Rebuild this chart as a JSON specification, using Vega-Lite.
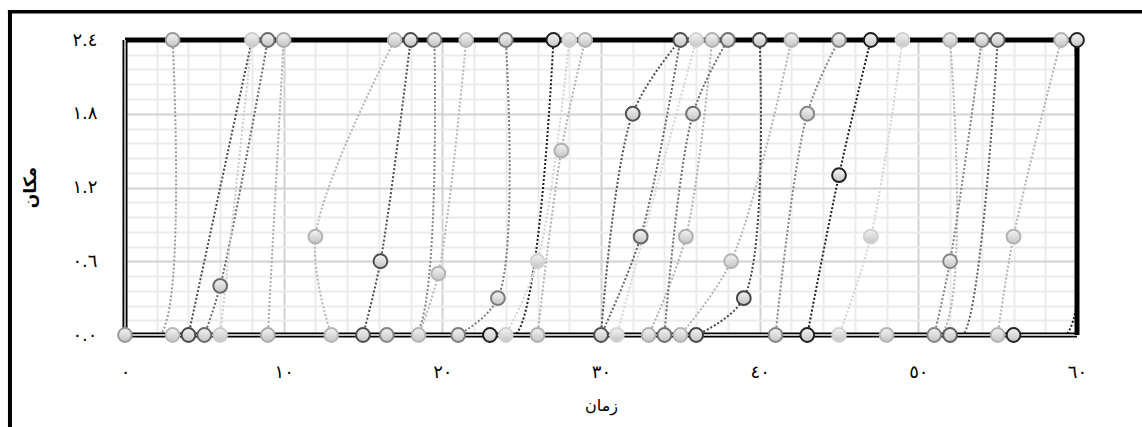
{
  "$schema": "https://vega.github.io/schema/vega-lite/v6.json",
  "width": 952,
  "height": 295,
  "autosize": "none",
  "padding": {"left": 125, "top": 40, "right": 65, "bottom": 92},
  "background": "white",
  "config": {"view": {"stroke": null}, "font": "DejaVu Sans"},
  "datasets": {
    "paths": [
      {"series": "s1", "step": 0, "time": 0, "place": 0}, {"series": "s1", "step": 1, "time": 2.2, "place": 0}, {"series": "s1", "step": 2, "time": 3, "place": 2.4},
      {"series": "s2", "step": 0, "time": 4, "place": 0}, {"series": "s2", "step": 1, "time": 8, "place": 2.4},
      {"series": "s3", "step": 0, "time": 5, "place": 0}, {"series": "s3", "step": 1, "time": 6, "place": 0.4}, {"series": "s3", "step": 2, "time": 9, "place": 2.4},
      {"series": "s4", "step": 0, "time": 6, "place": 0}, {"series": "s4", "step": 1, "time": 8, "place": 2.4},
      {"series": "s5", "step": 0, "time": 9, "place": 0}, {"series": "s5", "step": 1, "time": 10, "place": 2.4},
      {"series": "s6", "step": 0, "time": 13, "place": 0}, {"series": "s6", "step": 1, "time": 12, "place": 0.8}, {"series": "s6", "step": 2, "time": 17, "place": 2.4},
      {"series": "s7", "step": 0, "time": 15, "place": 0}, {"series": "s7", "step": 1, "time": 16.1, "place": 0.6}, {"series": "s7", "step": 2, "time": 18, "place": 2.4},
      {"series": "s8", "step": 0, "time": 16.5, "place": 0}, {"series": "s8", "step": 1, "time": 18.3, "place": 0}, {"series": "s8", "step": 2, "time": 19.5, "place": 2.4},
      {"series": "s9", "step": 0, "time": 18.5, "place": 0}, {"series": "s9", "step": 1, "time": 19.75, "place": 0.5}, {"series": "s9", "step": 2, "time": 21.5, "place": 2.4},
      {"series": "s10", "step": 0, "time": 21, "place": 0}, {"series": "s10", "step": 1, "time": 23.5, "place": 0.3}, {"series": "s10", "step": 2, "time": 24, "place": 2.4},
      {"series": "s11", "step": 0, "time": 23, "place": 0}, {"series": "s11", "step": 1, "time": 24.6, "place": 0}, {"series": "s11", "step": 2, "time": 27, "place": 2.4},
      {"series": "s12", "step": 0, "time": 24, "place": 0}, {"series": "s12", "step": 1, "time": 26, "place": 0.6}, {"series": "s12", "step": 2, "time": 28, "place": 2.4},
      {"series": "s13", "step": 0, "time": 26, "place": 0}, {"series": "s13", "step": 1, "time": 27.5, "place": 1.5}, {"series": "s13", "step": 2, "time": 29, "place": 2.4},
      {"series": "s14", "step": 0, "time": 30, "place": 0}, {"series": "s14", "step": 1, "time": 32, "place": 1.8}, {"series": "s14", "step": 2, "time": 35, "place": 2.4},
      {"series": "s15", "step": 0, "time": 30, "place": 0}, {"series": "s15", "step": 1, "time": 32.5, "place": 0.8}, {"series": "s15", "step": 2, "time": 35, "place": 2.4},
      {"series": "s16", "step": 0, "time": 33, "place": 0}, {"series": "s16", "step": 1, "time": 35.35, "place": 0.8}, {"series": "s16", "step": 2, "time": 37, "place": 2.4},
      {"series": "s17", "step": 0, "time": 34, "place": 0}, {"series": "s17", "step": 1, "time": 35.8, "place": 1.8}, {"series": "s17", "step": 2, "time": 38, "place": 2.4},
      {"series": "s18", "step": 0, "time": 31, "place": 0}, {"series": "s18", "step": 1, "time": 36, "place": 2.4},
      {"series": "s19", "step": 0, "time": 36, "place": 0}, {"series": "s19", "step": 1, "time": 39, "place": 0.3}, {"series": "s19", "step": 2, "time": 40, "place": 2.4},
      {"series": "s20", "step": 0, "time": 35, "place": 0}, {"series": "s20", "step": 1, "time": 38.2, "place": 0.6}, {"series": "s20", "step": 2, "time": 42, "place": 2.4},
      {"series": "s21", "step": 0, "time": 41, "place": 0}, {"series": "s21", "step": 1, "time": 43, "place": 1.8}, {"series": "s21", "step": 2, "time": 45, "place": 2.4},
      {"series": "s22", "step": 0, "time": 43, "place": 0}, {"series": "s22", "step": 1, "time": 45, "place": 1.3}, {"series": "s22", "step": 2, "time": 47, "place": 2.4},
      {"series": "s23", "step": 0, "time": 45, "place": 0}, {"series": "s23", "step": 1, "time": 47, "place": 0.8}, {"series": "s23", "step": 2, "time": 49, "place": 2.4},
      {"series": "s24", "step": 0, "time": 48, "place": 0}, {"series": "s24", "step": 1, "time": 51.4, "place": 0}, {"series": "s24", "step": 2, "time": 52, "place": 2.4},
      {"series": "s25", "step": 0, "time": 51, "place": 0}, {"series": "s25", "step": 1, "time": 52, "place": 0.6}, {"series": "s25", "step": 2, "time": 54, "place": 2.4},
      {"series": "s26", "step": 0, "time": 52, "place": 0}, {"series": "s26", "step": 1, "time": 52.8, "place": 0}, {"series": "s26", "step": 2, "time": 55, "place": 2.4},
      {"series": "s27", "step": 0, "time": 55, "place": 0}, {"series": "s27", "step": 1, "time": 56, "place": 0.8}, {"series": "s27", "step": 2, "time": 59, "place": 2.4},
      {"series": "s28", "step": 0, "time": 56, "place": 0}, {"series": "s28", "step": 1, "time": 59.3, "place": 0}, {"series": "s28", "step": 2, "time": 59.85, "place": 2.4}
    ],
    "stops": [
      {"series": "s1", "time": 0, "place": 0}, {"series": "s0", "time": 3, "place": 0}, {"series": "s2", "time": 4, "place": 0},
      {"series": "s3", "time": 5, "place": 0}, {"series": "s4", "time": 6, "place": 0}, {"series": "s5", "time": 9, "place": 0},
      {"series": "s6", "time": 13, "place": 0}, {"series": "s7", "time": 15, "place": 0}, {"series": "s8", "time": 16.5, "place": 0},
      {"series": "s9", "time": 18.5, "place": 0}, {"series": "s10", "time": 21, "place": 0}, {"series": "s11", "time": 23, "place": 0},
      {"series": "s12", "time": 24, "place": 0}, {"series": "s13", "time": 26, "place": 0}, {"series": "s14", "time": 30, "place": 0},
      {"series": "s18", "time": 31, "place": 0}, {"series": "s16", "time": 33, "place": 0}, {"series": "s17", "time": 34, "place": 0},
      {"series": "s20", "time": 35, "place": 0}, {"series": "s19", "time": 36, "place": 0}, {"series": "s21", "time": 41, "place": 0},
      {"series": "s22", "time": 43, "place": 0}, {"series": "s23", "time": 45, "place": 0}, {"series": "s24", "time": 48, "place": 0},
      {"series": "s25", "time": 51, "place": 0}, {"series": "s26", "time": 52, "place": 0}, {"series": "s27", "time": 55, "place": 0},
      {"series": "s28", "time": 56, "place": 0},
      {"series": "s3", "time": 6, "place": 0.4}, {"series": "s6", "time": 12, "place": 0.8}, {"series": "s7", "time": 16.1, "place": 0.6},
      {"series": "s9", "time": 19.75, "place": 0.5}, {"series": "s10", "time": 23.5, "place": 0.3}, {"series": "s12", "time": 26, "place": 0.6},
      {"series": "s13", "time": 27.5, "place": 1.5}, {"series": "s14", "time": 32, "place": 1.8}, {"series": "s15", "time": 32.5, "place": 0.8},
      {"series": "s16", "time": 35.35, "place": 0.8}, {"series": "s17", "time": 35.8, "place": 1.8}, {"series": "s20", "time": 38.2, "place": 0.6},
      {"series": "s19", "time": 39, "place": 0.3}, {"series": "s21", "time": 43, "place": 1.8}, {"series": "s22", "time": 45, "place": 1.3},
      {"series": "s23", "time": 47, "place": 0.8}, {"series": "s25", "time": 52, "place": 0.6}, {"series": "s27", "time": 56, "place": 0.8},
      {"series": "s1", "time": 3, "place": 2.4}, {"series": "s4", "time": 8, "place": 2.4}, {"series": "s3", "time": 9, "place": 2.4},
      {"series": "s5", "time": 10, "place": 2.4}, {"series": "s6", "time": 17, "place": 2.4}, {"series": "s7", "time": 18, "place": 2.4},
      {"series": "s8", "time": 19.5, "place": 2.4}, {"series": "s9", "time": 21.5, "place": 2.4}, {"series": "s10", "time": 24, "place": 2.4},
      {"series": "s11", "time": 27, "place": 2.4}, {"series": "s12", "time": 28, "place": 2.4}, {"series": "s13", "time": 29, "place": 2.4},
      {"series": "s14", "time": 35, "place": 2.4}, {"series": "s18", "time": 36, "place": 2.4}, {"series": "s16", "time": 37, "place": 2.4},
      {"series": "s17", "time": 38, "place": 2.4}, {"series": "s19", "time": 40, "place": 2.4}, {"series": "s20", "time": 42, "place": 2.4},
      {"series": "s21", "time": 45, "place": 2.4}, {"series": "s22", "time": 47, "place": 2.4}, {"series": "s23", "time": 49, "place": 2.4},
      {"series": "s24", "time": 52, "place": 2.4}, {"series": "s25", "time": 54, "place": 2.4}, {"series": "s26", "time": 55, "place": 2.4},
      {"series": "s27", "time": 59, "place": 2.4}, {"series": "s28", "time": 60, "place": 2.4}
    ]
  },
  "layer": [
    {
      "data": {"name": "paths"},
      "mark": {"type": "line", "interpolate": "catmull-rom", "strokeWidth": 2, "strokeDash": [2, 2], "clip": true},
      "encoding": {
        "x": {
          "field": "time", "type": "quantitative", "title": "زمان",
          "scale": {"domain": [0, 60], "nice": false, "zero": false},
          "axis": {"values": [0, 2, 4, 6, 8, 10, 12, 14, 16, 18, 20, 22, 24, 26, 28, 30, 32, 34, 36, 38, 40, 42, 44, 46, 48, 50, 52, 54, 56, 58, 60], "grid": true, "ticks": false, "domain": false, "gridColor": {"condition": {"test": "datum.value % 10 == 0", "value": "#d2d2d2"}, "value": "#ebebeb"}, "gridWidth": 2, "labelExpr": "datum.value % 10 == 0 ? ['٠','١٠','٢٠','٣٠','٤٠','٥٠','٦٠'][datum.value / 10] : ''", "labelFlush": false, "labelOverlap": false, "labelPadding": 28, "labelFontSize": 18, "labelColor": "#000", "titleFontSize": 16, "titleFontWeight": "normal", "titleColor": "#000", "titleY": 70, "titleBaseline": "middle"}
        },
        "y": {
          "field": "place", "type": "quantitative", "title": "مکان",
          "scale": {"domain": [0, 2.4], "nice": false, "zero": false},
          "axis": {"values": [0, 0.12, 0.24, 0.36, 0.48, 0.6, 0.72, 0.84, 0.96, 1.08, 1.2, 1.32, 1.44, 1.56, 1.68, 1.8, 1.92, 2.04, 2.16, 2.28, 2.4], "grid": true, "ticks": false, "domain": false, "gridColor": {"condition": {"test": "abs(datum.value / 0.6 - round(datum.value / 0.6)) < 0.001", "value": "#d2d2d2"}, "value": "#ebebeb"}, "gridWidth": 2, "labelExpr": "abs(datum.value / 0.6 - round(datum.value / 0.6)) < 0.001 ? ['٠.٠','٠.٦','١.٢','١.٨','٢.٤'][round(datum.value / 0.6)] : ''", "labelOverlap": false, "labelFlush": false, "labelPadding": 28, "labelFontSize": 18, "labelColor": "#000", "titleFontSize": 17, "titleFontWeight": "bold", "titleColor": "#000", "titleX": -95, "titleY": 147, "titleAlign": "center", "titleBaseline": "middle"}
        },
        "detail": {"field": "series"},
        "order": {"field": "step", "type": "quantitative"},
        "stroke": {
          "field": "series", "type": "nominal", "legend": null,
          "scale": {
            "domain": ["s0","s1","s2","s3","s4","s5","s6","s7","s8","s9","s10","s11","s12","s13","s14","s15","s16","s17","s18","s19","s20","s21","s22","s23","s24","s25","s26","s27","s28"],
            "range": ["#b8b8b8","#999999","#4a4a4a","#6a6a6a","#cccccc","#ababab","#b5b5b5","#4d4d4d","#858585","#b5b5b5","#7d7d7d","#1f1f1f","#d2d2d2","#b0b0b0","#505050","#666666","#b0b0b0","#6e6e6e","#d4d4d4","#454545","#b3b3b3","#858585","#1f1f1f","#d2d2d2","#b3b3b3","#858585","#5e5e5e","#b3b3b3","#262626"]
          }
        }
      }
    },
    {
      "data": {"values": [{}]},
      "mark": {"type": "rule", "color": "#000", "strokeWidth": 5},
      "encoding": {
        "y": {
          "datum": 2.4, "type": "quantitative", "title": "مکان",
          "scale": {"domain": [0, 2.4], "nice": false, "zero": false},
          "axis": {"values": [0, 0.12, 0.24, 0.36, 0.48, 0.6, 0.72, 0.84, 0.96, 1.08, 1.2, 1.32, 1.44, 1.56, 1.68, 1.8, 1.92, 2.04, 2.16, 2.28, 2.4], "grid": true, "ticks": false, "domain": false, "gridColor": {"condition": {"test": "abs(datum.value / 0.6 - round(datum.value / 0.6)) < 0.001", "value": "#d2d2d2"}, "value": "#ebebeb"}, "gridWidth": 2, "labelExpr": "abs(datum.value / 0.6 - round(datum.value / 0.6)) < 0.001 ? ['٠.٠','٠.٦','١.٢','١.٨','٢.٤'][round(datum.value / 0.6)] : ''", "labelOverlap": false, "labelFlush": false, "labelPadding": 28, "labelFontSize": 18, "labelColor": "#000", "titleFontSize": 17, "titleFontWeight": "bold", "titleColor": "#000", "titleX": -95, "titleY": 147, "titleAlign": "center", "titleBaseline": "middle"}
        }
      }
    },
    {
      "data": {"values": [{}]},
      "mark": {"type": "rule", "color": "#000", "strokeWidth": 5},
      "encoding": {
        "y": {
          "datum": 0, "type": "quantitative", "title": "مکان",
          "scale": {"domain": [0, 2.4], "nice": false, "zero": false},
          "axis": {"values": [0, 0.12, 0.24, 0.36, 0.48, 0.6, 0.72, 0.84, 0.96, 1.08, 1.2, 1.32, 1.44, 1.56, 1.68, 1.8, 1.92, 2.04, 2.16, 2.28, 2.4], "grid": true, "ticks": false, "domain": false, "gridColor": {"condition": {"test": "abs(datum.value / 0.6 - round(datum.value / 0.6)) < 0.001", "value": "#d2d2d2"}, "value": "#ebebeb"}, "gridWidth": 2, "labelExpr": "abs(datum.value / 0.6 - round(datum.value / 0.6)) < 0.001 ? ['٠.٠','٠.٦','١.٢','١.٨','٢.٤'][round(datum.value / 0.6)] : ''", "labelOverlap": false, "labelFlush": false, "labelPadding": 28, "labelFontSize": 18, "labelColor": "#000", "titleFontSize": 17, "titleFontWeight": "bold", "titleColor": "#000", "titleX": -95, "titleY": 147, "titleAlign": "center", "titleBaseline": "middle"}
        }
      }
    },
    {
      "data": {"values": [{}]},
      "mark": {"type": "rule", "color": "#fff", "strokeWidth": 1.3},
      "encoding": {
        "y": {
          "datum": 0, "type": "quantitative", "title": "مکان",
          "scale": {"domain": [0, 2.4], "nice": false, "zero": false},
          "axis": {"values": [0, 0.12, 0.24, 0.36, 0.48, 0.6, 0.72, 0.84, 0.96, 1.08, 1.2, 1.32, 1.44, 1.56, 1.68, 1.8, 1.92, 2.04, 2.16, 2.28, 2.4], "grid": true, "ticks": false, "domain": false, "gridColor": {"condition": {"test": "abs(datum.value / 0.6 - round(datum.value / 0.6)) < 0.001", "value": "#d2d2d2"}, "value": "#ebebeb"}, "gridWidth": 2, "labelExpr": "abs(datum.value / 0.6 - round(datum.value / 0.6)) < 0.001 ? ['٠.٠','٠.٦','١.٢','١.٨','٢.٤'][round(datum.value / 0.6)] : ''", "labelOverlap": false, "labelFlush": false, "labelPadding": 28, "labelFontSize": 18, "labelColor": "#000", "titleFontSize": 17, "titleFontWeight": "bold", "titleColor": "#000", "titleX": -95, "titleY": 147, "titleAlign": "center", "titleBaseline": "middle"}
        }
      }
    },
    {
      "data": {"values": [{}]},
      "mark": {"type": "rule", "color": "#000", "strokeWidth": 5},
      "encoding": {
        "x": {
          "datum": 60, "type": "quantitative", "title": "زمان",
          "scale": {"domain": [0, 60], "nice": false, "zero": false},
          "axis": {"values": [0, 2, 4, 6, 8, 10, 12, 14, 16, 18, 20, 22, 24, 26, 28, 30, 32, 34, 36, 38, 40, 42, 44, 46, 48, 50, 52, 54, 56, 58, 60], "grid": true, "ticks": false, "domain": false, "gridColor": {"condition": {"test": "datum.value % 10 == 0", "value": "#d2d2d2"}, "value": "#ebebeb"}, "gridWidth": 2, "labelExpr": "datum.value % 10 == 0 ? ['٠','١٠','٢٠','٣٠','٤٠','٥٠','٦٠'][datum.value / 10] : ''", "labelFlush": false, "labelOverlap": false, "labelPadding": 28, "labelFontSize": 18, "labelColor": "#000", "titleFontSize": 16, "titleFontWeight": "normal", "titleColor": "#000", "titleY": 70, "titleBaseline": "middle"}
        }
      }
    },
    {
      "data": {"values": [{}]},
      "mark": {"type": "rule", "color": "#000", "strokeWidth": 5},
      "encoding": {
        "x": {
          "datum": 0, "type": "quantitative", "title": "زمان",
          "scale": {"domain": [0, 60], "nice": false, "zero": false},
          "axis": {"values": [0, 2, 4, 6, 8, 10, 12, 14, 16, 18, 20, 22, 24, 26, 28, 30, 32, 34, 36, 38, 40, 42, 44, 46, 48, 50, 52, 54, 56, 58, 60], "grid": true, "ticks": false, "domain": false, "gridColor": {"condition": {"test": "datum.value % 10 == 0", "value": "#d2d2d2"}, "value": "#ebebeb"}, "gridWidth": 2, "labelExpr": "datum.value % 10 == 0 ? ['٠','١٠','٢٠','٣٠','٤٠','٥٠','٦٠'][datum.value / 10] : ''", "labelFlush": false, "labelOverlap": false, "labelPadding": 28, "labelFontSize": 18, "labelColor": "#000", "titleFontSize": 16, "titleFontWeight": "normal", "titleColor": "#000", "titleY": 70, "titleBaseline": "middle"}
        }
      }
    },
    {
      "data": {"values": [{}]},
      "mark": {"type": "rule", "color": "#fff", "strokeWidth": 1.3},
      "encoding": {
        "x": {
          "datum": 0, "type": "quantitative", "title": "زمان",
          "scale": {"domain": [0, 60], "nice": false, "zero": false},
          "axis": {"values": [0, 2, 4, 6, 8, 10, 12, 14, 16, 18, 20, 22, 24, 26, 28, 30, 32, 34, 36, 38, 40, 42, 44, 46, 48, 50, 52, 54, 56, 58, 60], "grid": true, "ticks": false, "domain": false, "gridColor": {"condition": {"test": "datum.value % 10 == 0", "value": "#d2d2d2"}, "value": "#ebebeb"}, "gridWidth": 2, "labelExpr": "datum.value % 10 == 0 ? ['٠','١٠','٢٠','٣٠','٤٠','٥٠','٦٠'][datum.value / 10] : ''", "labelFlush": false, "labelOverlap": false, "labelPadding": 28, "labelFontSize": 18, "labelColor": "#000", "titleFontSize": 16, "titleFontWeight": "normal", "titleColor": "#000", "titleY": 70, "titleBaseline": "middle"}
        }
      }
    },
    {
      "data": {"name": "stops"},
      "mark": {
        "type": "circle", "size": 190, "strokeWidth": 2, "opacity": 1, "fillOpacity": 1,
        "fill": {"gradient": "linear", "x1": 0, "y1": 0, "x2": 0, "y2": 1, "stops": [{"offset": 0, "color": "#f4f4f4"}, {"offset": 1, "color": "#c4c4c4"}]}
      },
      "encoding": {
        "x": {
          "field": "time", "type": "quantitative", "title": "زمان",
          "scale": {"domain": [0, 60], "nice": false, "zero": false},
          "axis": {"values": [0, 2, 4, 6, 8, 10, 12, 14, 16, 18, 20, 22, 24, 26, 28, 30, 32, 34, 36, 38, 40, 42, 44, 46, 48, 50, 52, 54, 56, 58, 60], "grid": true, "ticks": false, "domain": false, "gridColor": {"condition": {"test": "datum.value % 10 == 0", "value": "#d2d2d2"}, "value": "#ebebeb"}, "gridWidth": 2, "labelExpr": "datum.value % 10 == 0 ? ['٠','١٠','٢٠','٣٠','٤٠','٥٠','٦٠'][datum.value / 10] : ''", "labelFlush": false, "labelOverlap": false, "labelPadding": 28, "labelFontSize": 18, "labelColor": "#000", "titleFontSize": 16, "titleFontWeight": "normal", "titleColor": "#000", "titleY": 70, "titleBaseline": "middle"}
        },
        "y": {
          "field": "place", "type": "quantitative", "title": "مکان",
          "scale": {"domain": [0, 2.4], "nice": false, "zero": false},
          "axis": {"values": [0, 0.12, 0.24, 0.36, 0.48, 0.6, 0.72, 0.84, 0.96, 1.08, 1.2, 1.32, 1.44, 1.56, 1.68, 1.8, 1.92, 2.04, 2.16, 2.28, 2.4], "grid": true, "ticks": false, "domain": false, "gridColor": {"condition": {"test": "abs(datum.value / 0.6 - round(datum.value / 0.6)) < 0.001", "value": "#d2d2d2"}, "value": "#ebebeb"}, "gridWidth": 2, "labelExpr": "abs(datum.value / 0.6 - round(datum.value / 0.6)) < 0.001 ? ['٠.٠','٠.٦','١.٢','١.٨','٢.٤'][round(datum.value / 0.6)] : ''", "labelOverlap": false, "labelFlush": false, "labelPadding": 28, "labelFontSize": 18, "labelColor": "#000", "titleFontSize": 17, "titleFontWeight": "bold", "titleColor": "#000", "titleX": -95, "titleY": 147, "titleAlign": "center", "titleBaseline": "middle"}
        },
        "stroke": {
          "field": "series", "type": "nominal", "legend": null,
          "scale": {
            "domain": ["s0","s1","s2","s3","s4","s5","s6","s7","s8","s9","s10","s11","s12","s13","s14","s15","s16","s17","s18","s19","s20","s21","s22","s23","s24","s25","s26","s27","s28"],
            "range": ["#b8b8b8","#999999","#4a4a4a","#6a6a6a","#cccccc","#ababab","#b5b5b5","#4d4d4d","#858585","#b5b5b5","#7d7d7d","#1f1f1f","#d2d2d2","#b0b0b0","#505050","#666666","#b0b0b0","#6e6e6e","#d4d4d4","#454545","#b3b3b3","#858585","#1f1f1f","#d2d2d2","#b3b3b3","#858585","#5e5e5e","#b3b3b3","#262626"]
          }
        }
      }
    },
    {
      "data": {"values": [{}]},
      "mark": {"type": "rule", "color": "#000", "strokeWidth": 4},
      "encoding": {
        "x": {
          "datum": -7.25, "type": "quantitative", "title": "زمان",
          "scale": {"domain": [0, 60], "nice": false, "zero": false},
          "axis": {"values": [0, 2, 4, 6, 8, 10, 12, 14, 16, 18, 20, 22, 24, 26, 28, 30, 32, 34, 36, 38, 40, 42, 44, 46, 48, 50, 52, 54, 56, 58, 60], "grid": true, "ticks": false, "domain": false, "gridColor": {"condition": {"test": "datum.value % 10 == 0", "value": "#d2d2d2"}, "value": "#ebebeb"}, "gridWidth": 2, "labelExpr": "datum.value % 10 == 0 ? ['٠','١٠','٢٠','٣٠','٤٠','٥٠','٦٠'][datum.value / 10] : ''", "labelFlush": false, "labelOverlap": false, "labelPadding": 28, "labelFontSize": 18, "labelColor": "#000", "titleFontSize": 16, "titleFontWeight": "normal", "titleColor": "#000", "titleY": 70, "titleBaseline": "middle"}
        },
        "y": {
          "datum": 2.63, "type": "quantitative", "title": "مکان",
          "scale": {"domain": [0, 2.4], "nice": false, "zero": false},
          "axis": {"values": [0, 0.12, 0.24, 0.36, 0.48, 0.6, 0.72, 0.84, 0.96, 1.08, 1.2, 1.32, 1.44, 1.56, 1.68, 1.8, 1.92, 2.04, 2.16, 2.28, 2.4], "grid": true, "ticks": false, "domain": false, "gridColor": {"condition": {"test": "abs(datum.value / 0.6 - round(datum.value / 0.6)) < 0.001", "value": "#d2d2d2"}, "value": "#ebebeb"}, "gridWidth": 2, "labelExpr": "abs(datum.value / 0.6 - round(datum.value / 0.6)) < 0.001 ? ['٠.٠','٠.٦','١.٢','١.٨','٢.٤'][round(datum.value / 0.6)] : ''", "labelOverlap": false, "labelFlush": false, "labelPadding": 28, "labelFontSize": 18, "labelColor": "#000", "titleFontSize": 17, "titleFontWeight": "bold", "titleColor": "#000", "titleX": -95, "titleY": 147, "titleAlign": "center", "titleBaseline": "middle"}
        },
        "y2": {"datum": -0.8}
      }
    },
    {
      "data": {"values": [{}]},
      "mark": {"type": "rule", "color": "#000", "strokeWidth": 3.5},
      "encoding": {
        "x": {
          "datum": -7.38, "type": "quantitative", "title": "زمان",
          "scale": {"domain": [0, 60], "nice": false, "zero": false},
          "axis": {"values": [0, 2, 4, 6, 8, 10, 12, 14, 16, 18, 20, 22, 24, 26, 28, 30, 32, 34, 36, 38, 40, 42, 44, 46, 48, 50, 52, 54, 56, 58, 60], "grid": true, "ticks": false, "domain": false, "gridColor": {"condition": {"test": "datum.value % 10 == 0", "value": "#d2d2d2"}, "value": "#ebebeb"}, "gridWidth": 2, "labelExpr": "datum.value % 10 == 0 ? ['٠','١٠','٢٠','٣٠','٤٠','٥٠','٦٠'][datum.value / 10] : ''", "labelFlush": false, "labelOverlap": false, "labelPadding": 28, "labelFontSize": 18, "labelColor": "#000", "titleFontSize": 16, "titleFontWeight": "normal", "titleColor": "#000", "titleY": 70, "titleBaseline": "middle"}
        },
        "x2": {"datum": 64.5},
        "y": {
          "datum": 2.63, "type": "quantitative", "title": "مکان",
          "scale": {"domain": [0, 2.4], "nice": false, "zero": false},
          "axis": {"values": [0, 0.12, 0.24, 0.36, 0.48, 0.6, 0.72, 0.84, 0.96, 1.08, 1.2, 1.32, 1.44, 1.56, 1.68, 1.8, 1.92, 2.04, 2.16, 2.28, 2.4], "grid": true, "ticks": false, "domain": false, "gridColor": {"condition": {"test": "abs(datum.value / 0.6 - round(datum.value / 0.6)) < 0.001", "value": "#d2d2d2"}, "value": "#ebebeb"}, "gridWidth": 2, "labelExpr": "abs(datum.value / 0.6 - round(datum.value / 0.6)) < 0.001 ? ['٠.٠','٠.٦','١.٢','١.٨','٢.٤'][round(datum.value / 0.6)] : ''", "labelOverlap": false, "labelFlush": false, "labelPadding": 28, "labelFontSize": 18, "labelColor": "#000", "titleFontSize": 17, "titleFontWeight": "bold", "titleColor": "#000", "titleX": -95, "titleY": 147, "titleAlign": "center", "titleBaseline": "middle"}
        }
      }
    }
  ]
}
